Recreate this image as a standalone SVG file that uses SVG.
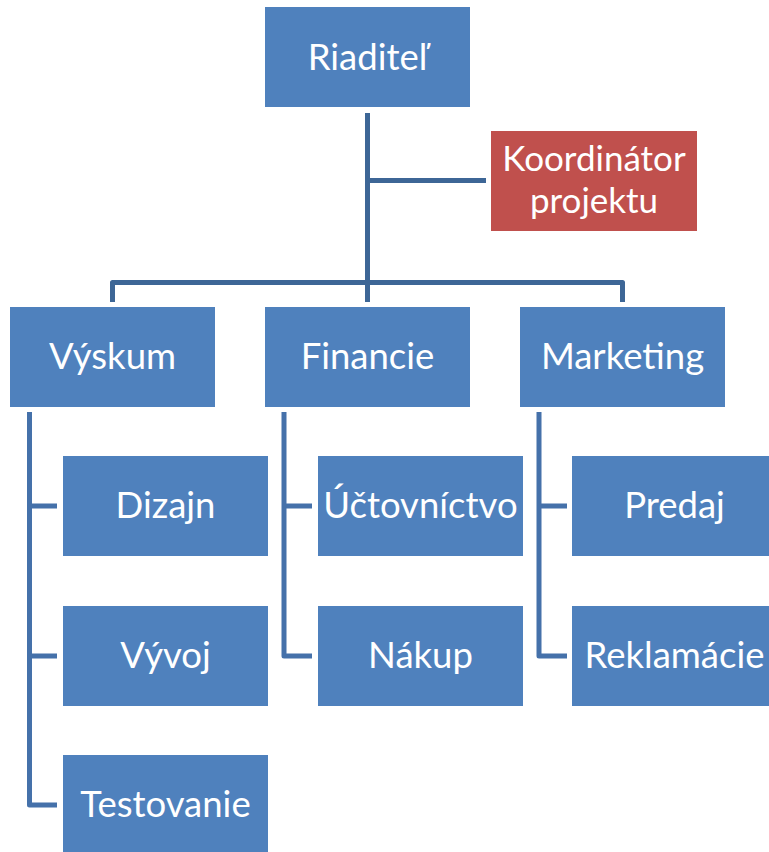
<svg xmlns="http://www.w3.org/2000/svg" width="769" height="852" viewBox="0 0 769 852">
  <style>
    .box { fill: #4F81BD; }
    .accent { fill: #C0504D; }
    .lbl { font-family: Lato, "Liberation Sans", sans-serif; font-size: 36.5px; fill: #FFFFFF; text-anchor: middle; }
    .lbl2 { font-size: 35px; }
    .main { fill: none; stroke: #3D6696; stroke-width: 5; stroke-linejoin: round; }
    .sub { fill: none; stroke: #4571AA; stroke-width: 5; stroke-linejoin: round; }
  </style>
  <rect width="769" height="852" fill="#FFFFFF"/>

  <!-- connectors -->
  <g id="connectors">
    <path class="main" d="M367.5,113 V302"/>
    <path class="main" d="M367.5,180.5 H486"/>
    <path class="main" d="M112.5,302 V282.5 H622.5 V302"/>
    <path class="sub" d="M29.5,412 V805 H57 M29.5,506 H57 M29.5,656 H57"/>
    <path class="sub" d="M284,412 V656 H312 M284,506 H312"/>
    <path class="sub" d="M539,412 V656 H567 M539,506 H567"/>
  </g>

  <!-- top level -->
  <g id="riaditel">
    <rect class="box" x="265" y="7" width="205" height="100"/>
    <text class="lbl" x="367.5" y="70">Riaditeľ</text>
  </g>
  <g id="koordinator">
    <rect class="accent" x="491" y="131" width="206" height="100"/>
    <text class="lbl lbl2" x="594" y="170.5">Koordinátor<tspan x="594" dy="42">projektu</tspan></text>
  </g>

  <!-- departments -->
  <g id="vyskum">
    <rect class="box" x="10" y="307" width="205" height="100"/>
    <text class="lbl" x="112.5" y="369">Výskum</text>
  </g>
  <g id="financie">
    <rect class="box" x="265" y="307" width="205" height="100"/>
    <text class="lbl" x="367.5" y="369">Financie</text>
  </g>
  <g id="marketing">
    <rect class="box" x="520" y="307" width="205" height="100"/>
    <text class="lbl" x="622.5" y="369">Marketing</text>
  </g>

  <!-- Výskum units -->
  <g id="dizajn">
    <rect class="box" x="63" y="456" width="205" height="100"/>
    <text class="lbl" x="165.5" y="518">Dizajn</text>
  </g>
  <g id="vyvoj">
    <rect class="box" x="63" y="606" width="205" height="100"/>
    <text class="lbl" x="165.5" y="668">Vývoj</text>
  </g>
  <g id="testovanie">
    <rect class="box" x="63" y="755" width="205" height="100"/>
    <text class="lbl" x="165.5" y="817">Testovanie</text>
  </g>

  <!-- Financie units -->
  <g id="uctovnictvo">
    <rect class="box" x="318" y="456" width="205" height="100"/>
    <text class="lbl" x="420.5" y="518">Účtovníctvo</text>
  </g>
  <g id="nakup">
    <rect class="box" x="318" y="606" width="205" height="100"/>
    <text class="lbl" x="420.5" y="668">Nákup</text>
  </g>

  <!-- Marketing units -->
  <g id="predaj">
    <rect class="box" x="572" y="456" width="205" height="100"/>
    <text class="lbl" x="674.5" y="518">Predaj</text>
  </g>
  <g id="reklamacie">
    <rect class="box" x="572" y="606" width="205" height="100"/>
    <text class="lbl" x="674.5" y="668">Reklamácie</text>
  </g>
</svg>
